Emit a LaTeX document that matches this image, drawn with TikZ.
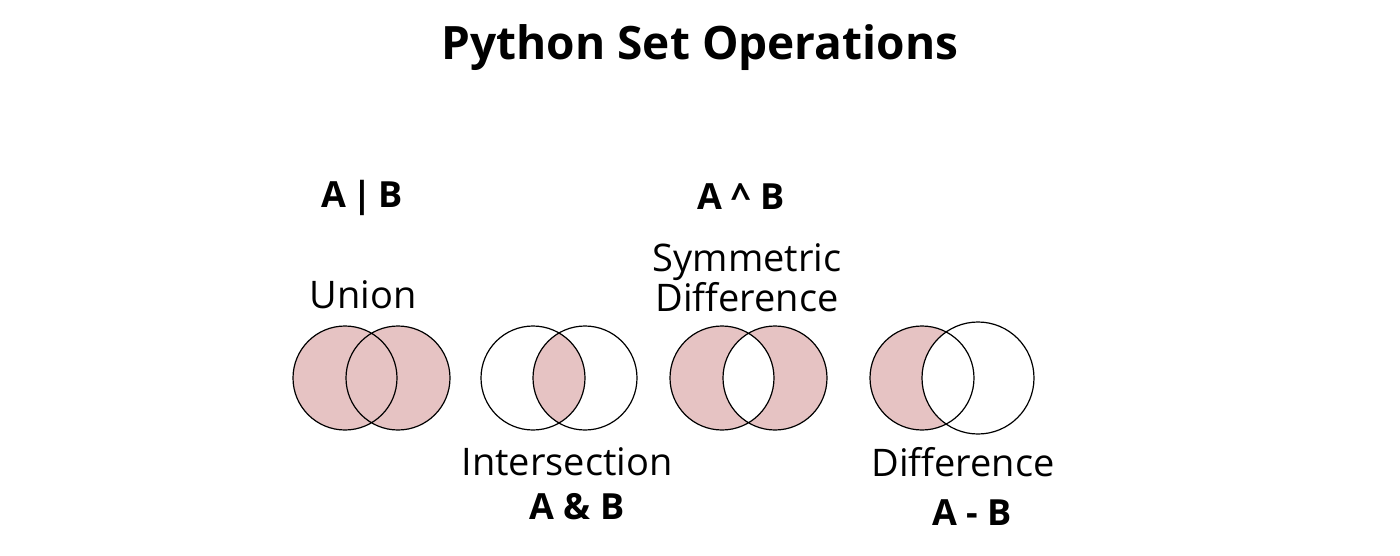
\documentclass[tikz,border=0pt]{standalone}
\usepackage{fontspec}
\setmainfont{Open Sans}
\definecolor{pinkfill}{HTML}{E6C3C3}
\begin{document}
\begin{tikzpicture}[x=1pt,y=-1pt,
  circ/.style={draw=black,line width=1.2pt},
  lbl/.style={font=\fontsize{38}{44}\selectfont,align=center},
  op/.style={font=\fontsize{36}{42}\selectfont\bfseries}]
\useasboundingbox (0,0) rectangle (1400,555);
\node[font=\fontsize{46}{56}\selectfont\bfseries] (title) at (700,48) {Python Set Operations};
% Union
\fill[pinkfill] (345,378) circle (52) (398,378) circle (52);
\draw[circ] (345,378) circle (52) (398,378) circle (52);
% Intersection
\begin{scope}
\clip (533,378) circle (52);
\fill[pinkfill] (585,378) circle (52);
\end{scope}
\draw[circ] (533,378) circle (52) (585,378) circle (52);
% Symmetric difference
\fill[pinkfill,even odd rule] (722,378) circle (52) (775,378) circle (52);
\draw[circ] (722,378) circle (52) (775,378) circle (52);
% Difference
\fill[pinkfill] (922,378) circle (52);
\fill[white] (978,378) circle (56);
\draw[circ] (922,378) circle (52) (978,378) circle (56);
% labels
\node[op] (ab1) at (362,198) {A\,|\,B};
\node[lbl] (un) at (363,295) {Union};
\node[lbl] (in) at (567,462) {Intersection};
\node[op] (ab2) at (577,507) {A \& B};
\node[op] (ab3) at (741,197) {A \^{} B};
\node[lbl,font=\fontsize{38}{40}\selectfont] (sd) at (747,278) {Symmetric\\Difference};
\node[lbl] (df) at (963,462) {Difference};
\node[op] (ab4) at (972,513) {A - B};
\end{tikzpicture}
\end{document}
